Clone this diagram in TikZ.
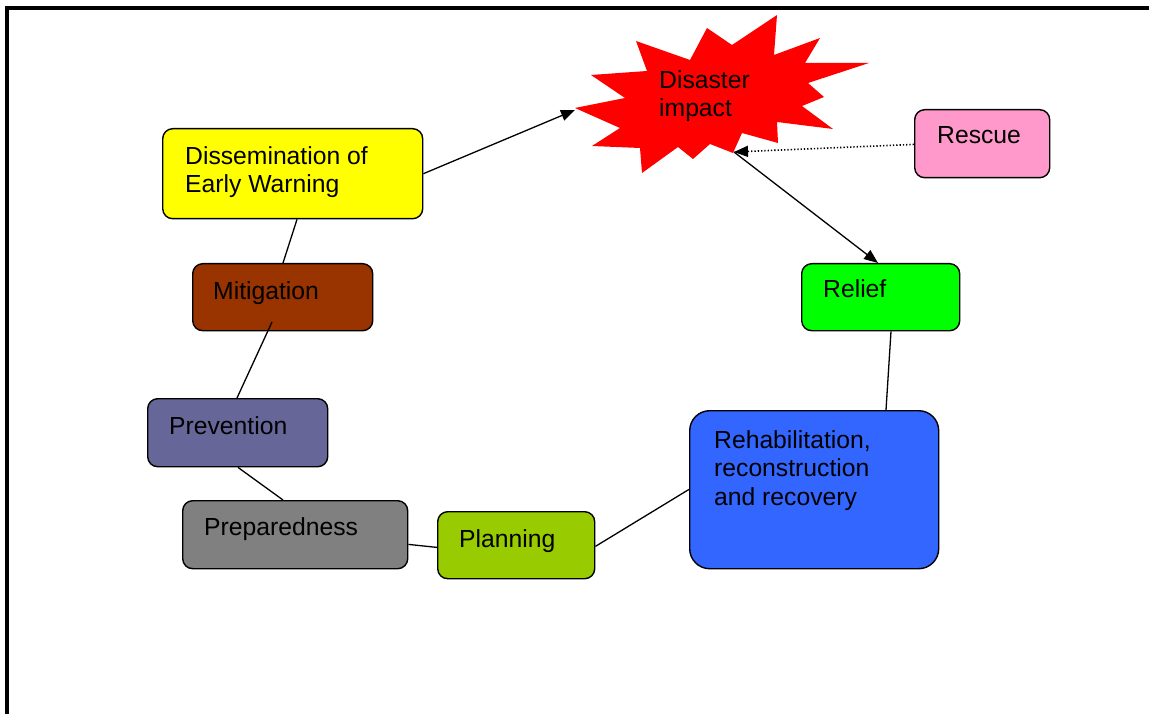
\documentclass[tikz,border=0pt]{standalone}
\usepackage{fontspec}
\setmainfont{Liberation Sans}
\usetikzlibrary{arrows.meta}
\definecolor{cyel}{HTML}{FFFF00}
\definecolor{cbrown}{HTML}{993300}
\definecolor{cprev}{HTML}{666699}
\definecolor{cgrey}{HTML}{808080}
\definecolor{cplan}{HTML}{99CC00}
\definecolor{crehab}{HTML}{3366FF}
\definecolor{crelief}{HTML}{00FF00}
\definecolor{crescue}{HTML}{FF99CC}
\definecolor{cred}{HTML}{FF0000}
\tikzset{
  box/.style={draw=black, line width=1.4pt, rounded corners=10pt, anchor=north west, inner sep=0pt},
  lbl/.style={anchor=base west, inner sep=0pt, align=left, font=\fontsize{24.7}{28.5}\selectfont},
  conn/.style={draw=black, line width=1.3pt},
  tip/.style={-{Triangle[length=14pt,width=11pt]}}
}
\begin{document}
\begin{tikzpicture}[x=1pt,y=-1pt]
\useasboundingbox (0,0) rectangle (1149,714);
% border
\draw[line width=4pt] (5,8) -- (1149,8);
\draw[line width=4pt] (7,6) -- (7,714);
% starburst
\fill[cred] (777,15) -- (774,55) -- (820,38) -- (805,63) -- (869,63) -- (808,83)
  -- (824,97) -- (802,106) -- (833,129) -- (777,122) -- (778,143) -- (742,133)
  -- (733,153) -- (710,144) -- (693,159) -- (678,147) -- (642,173) -- (640,148)
  -- (592,146) -- (620,128) -- (575,108) -- (625,98) -- (591,75) -- (647,71)
  -- (636,41) -- (690,60) -- (707,28) -- (732,45) -- cycle;
\node[lbl] (dis) at (659,117) {Disaster\\impact};
\coordinate (burstL) at (575,110);
\coordinate (burstR) at (734,152);
% boxes
\node[box, fill=cyel, minimum width=260pt, minimum height=90pt] (diss) at (162,128) {};
\node[lbl] (dissT) at (185,193) {Dissemination of\\Early Warning};
\node[box, fill=cbrown, minimum width=180pt, minimum height=67pt] (miti) at (192,263) {};
\node[lbl] (mitiT) at (213,299) {Mitigation};
\node[box, fill=cprev, minimum width=180pt, minimum height=68pt] (prev) at (147,398) {};
\node[lbl] (prevT) at (169,434) {Prevention};
\node[box, fill=cgrey, minimum width=225pt, minimum height=68pt] (prep) at (182,500) {};
\node[lbl] (prepT) at (204,535) {Preparedness};
\node[box, fill=cplan, minimum width=157pt, minimum height=67pt] (plan) at (437,511) {};
\node[lbl] (planT) at (459,547) {Planning};
\node[box, fill=crehab, rounded corners=20pt, minimum width=249pt, minimum height=158pt] (rehab) at (689,410) {};
\node[lbl] (rehabT) at (714,505) {Rehabilitation,\\reconstruction\\and recovery};
\node[box, fill=crelief, minimum width=158pt, minimum height=67pt] (relief) at (801,263) {};
\node[lbl] (reliefT) at (823,298) {Relief};
\node[box, fill=crescue, minimum width=135pt, minimum height=68pt] (rescue) at (914,109) {};
\node[lbl] (rescueT) at (937,144) {Rescue};
% connectors
\coordinate (mitiB) at (272,322);
\draw[conn, tip] (diss.east) -- (burstL);
\draw[conn] ([xshift=135pt]diss.south west) -- ([xshift=91pt]miti.north west);
\draw[conn] (mitiB) -- ([xshift=90pt]prev.north west);
\draw[conn] ([xshift=91pt]prev.south west) -- ([xshift=101pt]prep.north west);
\draw[conn] ([yshift=25pt]prep.south east) -- ([yshift=32pt]plan.south west);
\draw[conn] ([yshift=33pt]plan.south east) -- ([yshift=80pt]rehab.south west);
\draw[conn] ([xshift=197pt]rehab.north west) -- ([xshift=90pt]relief.south west);
\draw[conn, tip] (burstR) -- ([xshift=77pt]relief.north west);
\draw[conn, dotted, line width=1.6pt, tip] ([yshift=34pt]rescue.south west) -- (burstR);
\end{tikzpicture}
\end{document}
